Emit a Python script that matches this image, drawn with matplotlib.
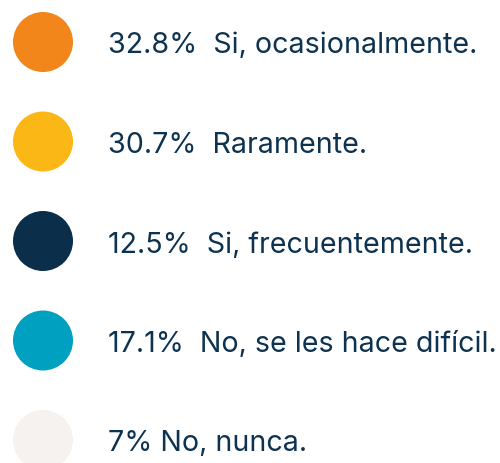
import matplotlib.pyplot as plt
from matplotlib.patches import Circle

# Datos de la leyenda
porcentajes = ["32.8%", "30.7%", "12.5%", "17.1%", "7%"]
etiquetas = ["Si, ocasionalmente.", "Raramente.", "Si, frecuentemente.",
             "No, se les hace difícil.", "No, nunca."]
separadores = ["  ", "  ", "  ", "  ", " "]
colores = ["#F2861A", "#FBB715", "#0B2E4A", "#00A0C0", "#F5F2EF"]

fig = plt.figure(figsize=(5, 4.63), dpi=100)
ax = fig.add_axes([0, 0, 1, 1])
ax.set_xlim(0, 500)
ax.set_ylim(463, 0)
ax.axis("off")

for i, (p, e, s, c) in enumerate(zip(porcentajes, etiquetas, separadores, colores)):
    y = 42 + i * 99.5
    ax.add_patch(Circle((43, y), 30, color=c, lw=0))
    ax.text(108, y + 1, f"{p}{s}{e}", fontsize=20.6, color="#0D3350",
            family="Inter", va="center_baseline", ha="left")

fig.savefig("out.png", dpi=100)
